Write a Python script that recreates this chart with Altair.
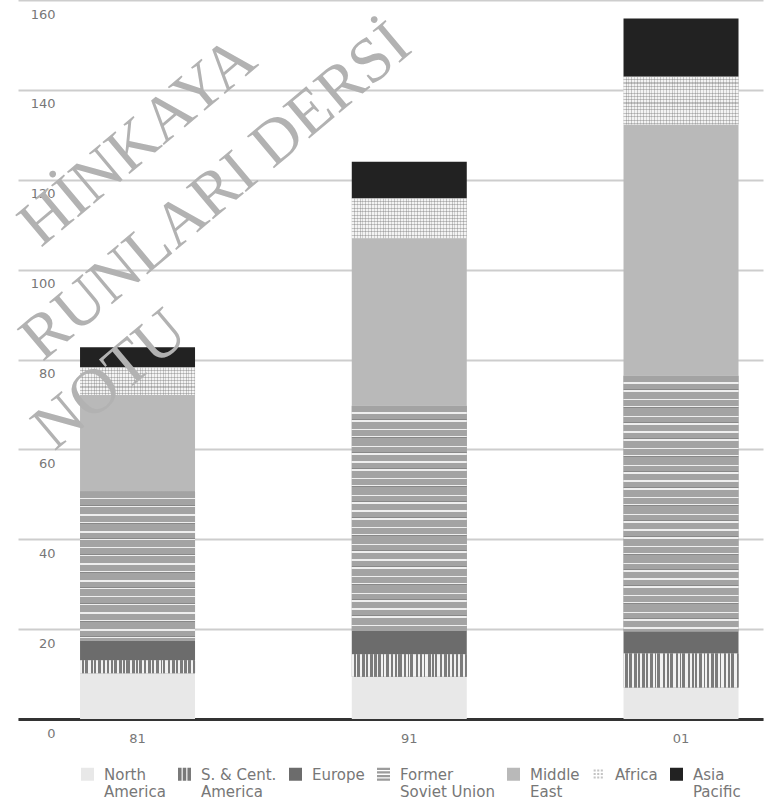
import altair as alt
import pandas as pd

# ---- data -------------------------------------------------------------
years = ["81", "91", "01"]
regions = [
    "North America",
    "S. & Cent. America",
    "Europe",
    "Former Soviet Union",
    "Middle East",
    "Africa",
    "Asia Pacific",
]
legend_lines = [
    ["North", "America"],
    ["S. & Cent.", "America"],
    ["Europe", ""],
    ["Former", "Soviet Union"],
    ["Middle", "East"],
    ["Africa", ""],
    ["Asia", "Pacific"],
]

north_america = [10.2, 9.4, 7.0]
south_central_america = [2.9, 5.0, 7.6]
europe = [4.3, 5.2, 4.9]
former_soviet_union = [33.3, 50.1, 56.9]
middle_east = [21.4, 37.3, 55.9]
africa = [6.1, 8.8, 10.6]
asia_pacific = [4.5, 8.2, 13.0]

y_ticks = [0, 20, 40, 60, 80, 100, 120, 140, 160]
watermark_lines = ["HİNKAYA", "RUNLARI DERSİ", "NOTU"]

series = [north_america, south_central_america, europe, former_soviet_union,
          middle_east, africa, asia_pacific]
rows = []
for i, (region, vals) in enumerate(zip(regions, series)):
    for year, v in zip(years, vals):
        rows.append({"year": year, "region": region, "order": i, "value": v})
df = pd.DataFrame(rows)

# ---- geometry / style -------------------------------------------------
PLOT_W, PLOT_H = 745, 719
Y_MAX = 160
PX_PER_UNIT = PLOT_H / Y_MAX

solid_colors = ["#e8e8e8", "#7a7a7a", "#6c6c6c", "#9c9c9c", "#b9b9b9", "#c4c4c4", "#222222"]


def hard_stops(segments):
    total = float(sum(w for _, w in segments))
    stops, pos = [], 0.0
    for color, w in segments:
        a = pos / total
        pos += w
        b = pos / total
        stops.append({"offset": round(a, 5), "color": color})
        stops.append({"offset": round(b, 5), "color": color})
    return stops


def stripes(segments, along_x):
    g = {"gradient": "linear", "stops": hard_stops(segments),
         "x1": 0, "y1": 0, "x2": 0, "y2": 0}
    if along_x:
        g["x2"] = 1
    else:
        g["y2"] = 1
    return g


def fill_to(cycle, total_px):
    """Repeat a (color, px) cycle until it covers total_px."""
    out, acc, i = [], 0.0, 0
    while acc < total_px:
        color, w = cycle[i % len(cycle)]
        w = min(w, total_px - acc)
        out.append((color, w))
        acc += w
        i += 1
    return out


# vertical barcode-like stripes (S. & Cent. America)
LIGHT, DARK = "#f2f2f2", "#7b7b7b"
sc_widths = [1.5, 2, 1, 2.5, 2, 2, 1, 1.5, 2, 2.5, 1, 2, 1.5, 2, 2, 1, 1, 2.5,
             2, 2, 1.5, 1.5, 1, 3, 2, 2, 1.5, 1, 1, 2.5, 2, 2, 1.5, 2, 1, 1.5,
             2, 2.5, 1.5, 1, 1, 2, 2, 2, 1.5, 2.5, 1, 1.5, 2, 2, 1.5, 2, 1, 2.5,
             2, 1.5]
sc_segments = [(LIGHT if k % 2 == 0 else DARK, w) for k, w in enumerate(sc_widths)]
sc_fill = stripes(sc_segments, along_x=True)

# horizontal ruled stripes (Former Soviet Union)
FSU_G, FSU_W, FSU_D = "#a3a3a3", "#eeeeee", "#888888"
fsu_cycle = [
    (FSU_G, 6.5), (FSU_W, 1.5),
    (FSU_G, 5.5), (FSU_D, 1.0), (FSU_W, 1.4),
    (FSU_G, 7.0), (FSU_W, 1.5),
    (FSU_G, 6.0), (FSU_W, 1.3), (FSU_D, 1.0),
    (FSU_G, 7.5), (FSU_W, 1.5),
    (FSU_G, 5.0), (FSU_D, 1.0), (FSU_W, 1.3),
]

# light grid texture (Africa)
AF_L, AF_G = "#f3f3f3", "#c2c2c2"
af_h_cycle = [(AF_L, 2.5), (AF_G, 1.0), (AF_L, 2.0), (AF_G, 1.2)]
af_v_cycle = [("rgba(255,255,255,0)", 2.2), ("rgba(110,110,110,0.35)", 1.0),
              ("rgba(255,255,255,0)", 1.6), ("rgba(110,110,110,0.25)", 1.0)]
af_v_fill = stripes(fill_to(af_v_cycle, 116), along_x=True)

# legend symbols (paths in the unit square, shifted to sit on the first label line)
SQ = "M-1,0H1V2H-1Z"
III = "M-1,0H-0.45V2H-1Z M-0.27,0H0.27V2H-0.27Z M0.45,0H1V2H0.45Z"
LINES = "M-1,0H1V0.35H-1Z M-1,0.55H1V0.9H-1Z M-1,1.1H1V1.45H-1Z M-1,1.65H1V2H-1Z"
DOTS = " ".join(
    f"M{x},{y}h0.32v0.32h-0.32Z"
    for x in (-0.75, -0.2, 0.35) for y in (0.25, 0.8, 1.35)
)
legend_shapes = [SQ, III, SQ, LINES, SQ, DOTS, SQ]

label_expr = ""
for name, lines in zip(regions, legend_lines):
    arr = "[" + ",".join("'" + s + "'" for s in lines) + "]"
    label_expr += f"datum.label == '{name}' ? {arr} : "
label_expr += "datum.label"

legend = alt.Legend(
    title=None, orient="none", legendX=62, legendY=760,
    direction="horizontal", columns=7, columnPadding=11, padding=0,
    labelOffset=9, symbolSize=169, symbolStrokeWidth=0, symbolOpacity=1,
    labelFont="DejaVu Sans", labelFontSize=15, labelColor="#777777",
    labelBaseline="top", labelLimit=200, labelExpr=label_expr,
)

color_scale = alt.Scale(domain=regions, range=solid_colors)
shape_scale = alt.Scale(domain=regions, range=legend_shapes)

x_scale = alt.Scale(paddingInner=0.5768, paddingOuter=0.1592, align=0.717)
y_scale = alt.Scale(domain=[0, Y_MAX], nice=False, zero=True)

x_axis = alt.Axis(
    title=None, ticks=False, tickSize=0, labelAngle=0, labelPadding=13,
    labelFont="DejaVu Sans", labelFontSize=13, labelColor="#777777",
    domain=True, domainColor="#333333", domainWidth=3, grid=False,
)
y_axis = alt.Axis(
    title=None, values=y_ticks, ticks=False, tickSize=0, domain=False,
    grid=True, gridColor="#cdcdcd", gridWidth=2,
    labelAlign="right", labelBaseline="middle", labelPadding=-37, labelOffset=14,
    labelFont="DejaVu Sans", labelFontSize=13, labelColor="#777777",
)

enc_x = alt.X("year:N", sort=years, scale=x_scale, axis=x_axis)
enc_y = alt.Y("y0:Q", scale=y_scale, axis=y_axis)
enc_y2 = alt.Y2("y1:Q")

base = alt.Chart(df).transform_stack(
    stack="value", groupby=["year"], as_=["y0", "y1"],
    sort=[alt.SortField("order", order="ascending")],
)

layers = []

# solid stacked bars
layers.append(
    base.mark_bar().encode(
        x=enc_x, y=enc_y, y2=enc_y2,
        color=alt.Color("region:N", scale=color_scale, legend=legend),
    )
)

# patterned overlays
layers.append(
    base.transform_filter(alt.datum.region == regions[1])
    .mark_bar(color=sc_fill)
    .encode(x=enc_x, y=enc_y, y2=enc_y2)
)
for year, v in zip(years, former_soviet_union):
    g = stripes(fill_to(fsu_cycle, v * PX_PER_UNIT), along_x=False)
    layers.append(
        base.transform_filter((alt.datum.region == regions[3]) & (alt.datum.year == year))
        .mark_bar(color=g)
        .encode(x=enc_x, y=enc_y, y2=enc_y2)
    )
for year, v in zip(years, africa):
    g = stripes(fill_to(af_h_cycle, v * PX_PER_UNIT), along_x=False)
    layers.append(
        base.transform_filter((alt.datum.region == regions[5]) & (alt.datum.year == year))
        .mark_bar(color=g)
        .encode(x=enc_x, y=enc_y, y2=enc_y2)
    )
layers.append(
    base.transform_filter(alt.datum.region == regions[5])
    .mark_bar(color=af_v_fill)
    .encode(x=enc_x, y=enc_y, y2=enc_y2)
)

# legend carrier: no rows drawn, only feeds color + shape into one legend
layers.append(
    base.transform_filter("false")
    .mark_point(filled=True, opacity=1)
    .encode(
        color=alt.Color("region:N", scale=color_scale, legend=legend),
        shape=alt.Shape("region:N", scale=shape_scale, legend=legend),
    )
)

# diagonal watermark (centres in plot coordinates)
wm_pos = [(120, 142), (198, 192), (92, 380)]
for text, (px, py) in zip(watermark_lines, wm_pos):
    layers.append(
        alt.Chart(pd.DataFrame({"t": [text]}))
        .mark_text(angle=320, font="Liberation Serif", fontSize=64,
                   color="#b2b2b2", align="center", baseline="middle")
        .encode(text="t:N", x=alt.value(px), y=alt.value(py))
    )

chart = (
    alt.layer(*layers)
    .properties(
        width=PLOT_W, height=PLOT_H,
        autosize=alt.AutoSizeParams(type="none"),
        padding={"left": 18, "top": 0, "right": 4, "bottom": 91},
        background="white",
    )
    .configure_view(stroke=None)
)

chart.save("out.html", embed_options={"renderer": "svg", "actions": False})
